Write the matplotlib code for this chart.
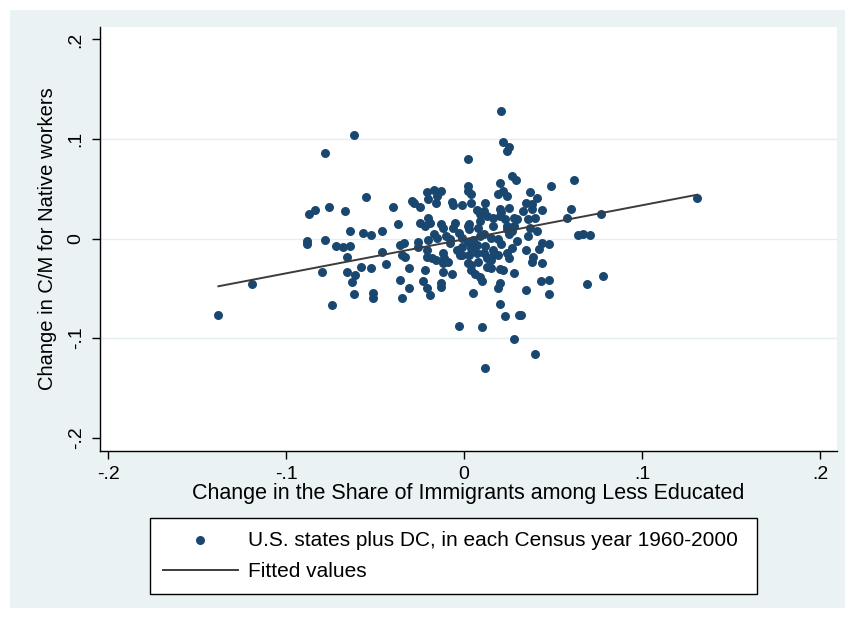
import numpy as np
import matplotlib
matplotlib.use("Agg")
import matplotlib.pyplot as plt
from matplotlib.patches import Rectangle

plt.rcParams['font.family'] = ['Liberation Sans', 'DejaVu Sans']

# change in immigrant share (x) and change in C/M for natives (y), one point per state-year
state_x = [
    -0.138, -0.119, -0.088, -0.088, -0.087, -0.084, -0.080, -0.078, -0.078, -0.076,
    -0.074, -0.072, -0.068, -0.064, -0.067, -0.066, -0.066, -0.061, -0.063, -0.062,
    -0.062, -0.064, -0.057, -0.052, -0.058, -0.052, -0.055, -0.051, -0.051,
    -0.046, -0.036, -0.046, -0.035, -0.033, -0.044, -0.031, -0.022, -0.021, -0.016, -0.012,
    -0.009, -0.012, -0.007, -0.023, -0.036, -0.013, -0.013, -0.031, -0.021, -0.019,
    -0.035, -0.003, 0.010, 0.012, 0.006, 0.010, 0.005, 0.004, 0.008, -0.002, 0.003, 0.013, 0.013,
    0.002, 0.002, 0.002, 0.004, -0.021, -0.017, -0.013, -0.020, -0.016, -0.015,
    -0.029, -0.028, -0.025, -0.040, -0.007, -0.006, -0.001, 0.007, 0.012, 0.011,
    -0.037, -0.025, -0.020, -0.019, -0.013, -0.012, -0.005, 0.002, 0.003, 0.009, 0.013, 0.004, 0.020, 0.025,
    -0.022, -0.006, -0.003, 0.003, 0.008, 0.016, 0.016, 0.020, 0.023, 0.024,
    -0.017, -0.015, -0.010, -0.008, -0.001, 0.002, 0.005, 0.009, 0.015, 0.019,
    0.025, -0.034, -0.026, -0.026, -0.021, -0.018, -0.012, -0.011, -0.004, -0.001,
    0.004, 0.007, 0.011, 0.016, 0.019, 0.024, 0.002, 0.004, 0.009,
    0.021, 0.022, 0.025, 0.024, 0.027, 0.029, 0.020, 0.049, 0.062, 0.022,
    0.019, 0.024, 0.037, 0.035, 0.038, 0.041, 0.060, 0.033, 0.038, 0.021,
    0.044, 0.009, 0.028, 0.030, 0.036, 0.040, 0.058, 0.028, 0.024, 0.027,
    0.037, 0.041, 0.036, 0.064, 0.067, 0.071, 0.011,
    0.035, 0.042, 0.044, 0.048, 0.039, 0.038, 0.044, 0.028, 0.015, 0.020,
    0.022, 0.015, 0.016, 0.020, 0.019, 0.035, 0.043, 0.048, 0.048, 0.069,
    0.020, 0.023, 0.031, 0.032, 0.028, 0.040, 0.077, 0.078, 0.131,
    -0.020, -0.008, -0.001, 0.007, 0.012, 0.021, 0.027, 0.030, 0.025,
]
state_y = [
    -0.077, -0.046, -0.003, -0.006, 0.025, 0.029, -0.034, -0.002, 0.086, 0.032,
    -0.067, -0.008, -0.009, -0.008, 0.028, -0.019, -0.034, -0.037, -0.044, -0.056,
    0.104, 0.008, 0.006, 0.004, -0.029, -0.030, 0.042, -0.055, -0.060,
    0.008, -0.007, -0.014, -0.017, -0.019, -0.026, -0.030, -0.032, -0.019, -0.022, -0.025,
    -0.024, -0.034, -0.036, -0.043, -0.042, -0.045, -0.049, -0.050, -0.050, -0.057,
    -0.060, -0.088, -0.089, -0.130, -0.036, -0.043, -0.055, -0.027, -0.024, -0.017, -0.017, -0.020, -0.029,
    0.080, 0.053, 0.048, 0.045, 0.047, 0.049, 0.048, 0.040, 0.036, 0.043,
    0.038, 0.036, 0.032, 0.032, 0.037, 0.034, 0.034, 0.029, 0.036, 0.028,
    0.015, 0.016, 0.021, 0.016, 0.015, 0.011, 0.016, 0.013, 0.015, 0.018, 0.023, 0.036, 0.030, 0.031,
    0.013, 0.011, 0.006, 0.010, 0.011, 0.021, 0.013, 0.023, 0.020, 0.013,
    0.005, 0.001, 0.003, 0.000, 0.001, -0.004, -0.002, 0.003, 0.001, 0.000,
    0.005, -0.005, -0.004, -0.009, -0.012, -0.020, -0.015, -0.020, -0.012, -0.017,
    -0.010, -0.015, -0.015, -0.012, -0.017, -0.015, -0.025, -0.032, -0.039,
    0.128, 0.097, 0.092, 0.088, 0.063, 0.059, 0.056, 0.053, 0.059, 0.048,
    0.045, 0.043, 0.047, 0.036, 0.035, 0.041, 0.030, 0.028, 0.030, 0.027,
    0.029, 0.025, 0.021, 0.020, 0.020, 0.021, 0.021, 0.013, 0.010, 0.008,
    0.011, 0.008, 0.003, 0.004, 0.005, 0.004, 0.005,
    -0.012, -0.011, -0.005, -0.006, -0.019, -0.024, -0.025, -0.035, -0.030, -0.031,
    -0.032, -0.022, -0.017, -0.045, -0.050, -0.052, -0.043, -0.042, -0.056, -0.046,
    -0.066, -0.078, -0.077, -0.077, -0.101, -0.116, 0.025, -0.038, 0.041,
    -0.002, -0.005, -0.009, -0.007, -0.008, -0.006, -0.010, -0.003, -0.020,
]

# fitted values at the extreme x values
fit_x = [-0.138, 0.131]
fit_y = [-0.048, 0.044]

ticks = [-0.2, -0.1, 0, 0.1, 0.2]
tick_labels = ['-.2', '-.1', '0', '.1', '.2']

fig = plt.figure(figsize=(8.47, 6.18), dpi=100, facecolor='white')
# stata-like outer background
fig.patches.append(Rectangle((10 / 847, 10 / 618), 835 / 847, 598 / 618,
                             transform=fig.transFigure, facecolor='#eaf2f3',
                             edgecolor='none', zorder=-10))

ax = fig.add_axes([100 / 847, 1 - 451 / 618, 737 / 847, 424 / 618])
ax.set_zorder(2)
ax.set_facecolor('white')

for t in ticks[1:-1]:
    ax.axhline(t, color='#e4eef0', linewidth=1.0, zorder=1)

ax.scatter(state_x, state_y, s=42, color='#1a476f', linewidths=0, zorder=3,
           label='U.S. states plus DC, in each Census year 1960-2000')
ax.plot(fit_x, fit_y, color='#3c3c3c', linewidth=1.4, zorder=4, label='Fitted values')

ax.set_xlim(-0.2045, 0.2095)
ax.set_ylim(-0.2135, 0.2125)
ax.set_xticks(ticks)
ax.set_xticklabels(tick_labels, fontsize=14)
ax.set_yticks(ticks)
ax.set_yticklabels(tick_labels, fontsize=14, rotation=90, va='center')
ax.tick_params(direction='out', length=6, width=1, color='black', pad=5)

for side in ['top', 'right']:
    ax.spines[side].set_visible(False)
for side in ['left', 'bottom']:
    ax.spines[side].set_linewidth(1.0)

ax.set_xlabel('Change in the Share of Immigrants among Less Educated', fontsize=15.5, labelpad=0)
ax.set_ylabel('Change in C/M for Native workers', fontsize=14.5, labelpad=8)

leg = fig.legend(loc='upper left', bbox_to_anchor=(150 / 847, 1 - 592 / 618, 607 / 847, 74 / 618),
                 mode='expand', borderaxespad=0, fontsize=15, frameon=True, fancybox=False,
                 edgecolor='black', facecolor='white', framealpha=1, handlelength=3.6,
                 handletextpad=0.5, labelspacing=0.6, borderpad=0.6, scatterpoints=1)
leg.get_frame().set_linewidth(1.0)

fig.savefig('out.png', dpi=100, facecolor=fig.get_facecolor())
